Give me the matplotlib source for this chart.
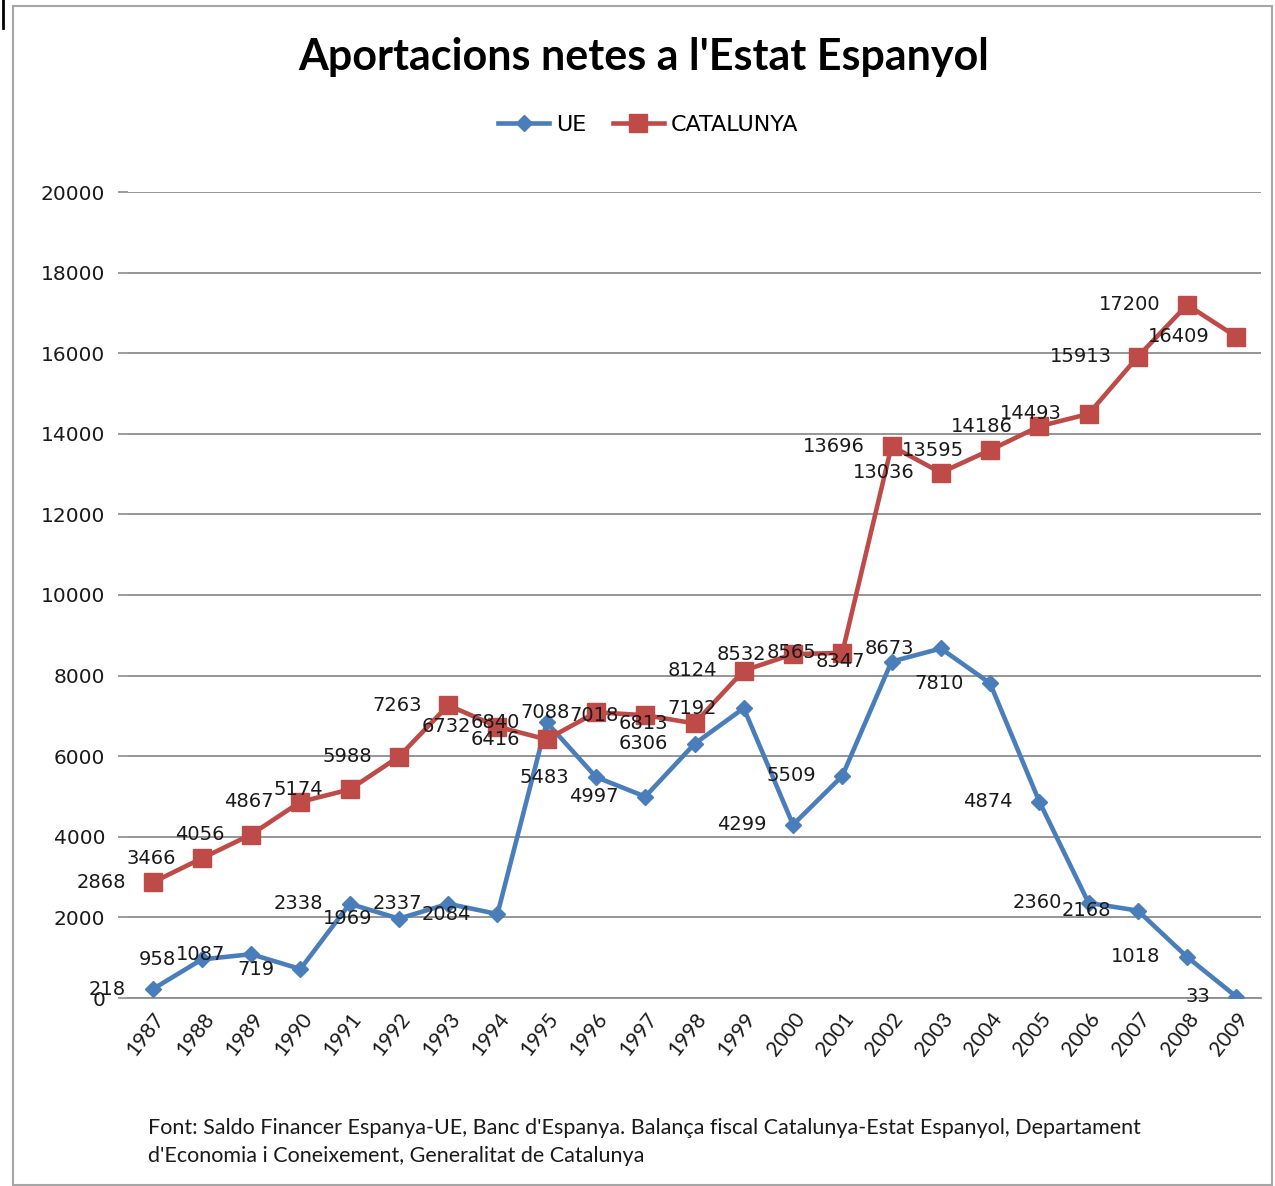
import matplotlib
matplotlib.use("Agg")
import matplotlib.pyplot as plt
from matplotlib.lines import Line2D
from matplotlib.patches import Rectangle

years = [str(y) for y in range(1987, 2010)]
ue = [218, 958, 1087, 719, 2338, 1969, 2337, 2084, 6840, 5483, 4997, 6306,
      7192, 4299, 5509, 8347, 8673, 7810, 4874, 2360, 2168, 1018, 33]
catalunya = [2868, 3466, 4056, 4867, 5174, 5988, 7263, 6732, 6416, 7088, 7018,
             6813, 8124, 8532, 8565, 13696, 13036, 13595, 14186, 14493, 15913,
             17200, 16409]
yticks = list(range(0, 20001, 2000))

title = "Aportacions netes a l'Estat Espanyol"
source = ("Font: Saldo Financer Espanya-UE, Banc d'Espanya. Balança fiscal Catalunya-Estat Espanyol, Departament\n"
          "d'Economia i Coneixement, Generalitat de Catalunya")

BLUE = "#4A7EBB"
RED = "#BE4B48"
GRID = "#8C8C8C"

W, H = 1275, 1186
fig = plt.figure(figsize=(W / 100, H / 100), dpi=100)
fig.patch.set_facecolor("white")

# outer border
fig.patches.append(Rectangle((13 / W, 0.001), (1272 - 13) / W, 1 - 6 / H - 0.001,
                             transform=fig.transFigure, fill=False,
                             edgecolor="#A6A6A6", linewidth=1.5))

ax = fig.add_axes([128 / W, 1 - 998 / H, (1261 - 128) / W, (998 - 192) / H])
x = list(range(len(years)))

ax.plot(x, ue, color=BLUE, lw=3.3, marker="D", ms=8.5, mfc=BLUE, mec=BLUE,
        zorder=3, solid_joinstyle="round")
ax.plot(x, catalunya, color=RED, lw=3.3, marker="s", ms=13, mfc=RED, mec=RED,
        zorder=3, solid_joinstyle="round")

for xi, v in zip(x, ue):
    ax.annotate(str(v), (xi, v), xytext=(-19, 0), textcoords="offset points",
                ha="right", va="center", fontsize=14, color="#1a1a1a",
                family="DejaVu Sans", zorder=5)
for xi, v in zip(x, catalunya):
    ax.annotate(str(v), (xi, v), xytext=(-19, 0), textcoords="offset points",
                ha="right", va="center", fontsize=14, color="#1a1a1a",
                family="DejaVu Sans", zorder=5)

ax.set_xlim(-0.5, len(years) - 0.5)
ax.set_ylim(0, 20000)
ax.set_yticks(yticks)
ax.set_yticklabels([str(t) for t in yticks], fontsize=14.5, color="#1a1a1a",
                   family="DejaVu Sans")
ax.set_xticks(x)
ax.set_xticklabels(years, rotation=52, ha="right", rotation_mode="anchor",
                   fontsize=15, family="Lato", color="#1a1a1a")
ax.tick_params(axis="x", length=0, pad=8)
ax.tick_params(axis="y", length=7, width=1.2, color=GRID, pad=9.5)
ax.grid(axis="y", color=GRID, lw=1.3)
ax.set_axisbelow(True)
for s in ["left", "right", "top"]:
    ax.spines[s].set_visible(False)
ax.spines["bottom"].set_color(GRID)
ax.spines["bottom"].set_linewidth(1.3)

fig.text(644 / W, 1 - 57 / H, title, ha="center", va="center", fontsize=31,
         fontweight="bold", family="Lato", color="black")

handles = [Line2D([], [], color=BLUE, lw=3.3, marker="D", ms=8.5),
           Line2D([], [], color=RED, lw=3.3, marker="s", ms=13)]
fig.legend(handles, ["UE", "CATALUNYA"], loc="center", ncol=2,
           bbox_to_anchor=(648 / W, 1 - 125 / H), frameon=False,
           prop={"family": "DejaVu Sans", "size": 16}, handlelength=2.3,
           handletextpad=0.3, columnspacing=1.2)

fig.text(148 / W, 1 - 1142 / H, source, ha="left", va="center", fontsize=15.5,
         family="Lato", color="#1a1a1a", linespacing=1.45)

fig.add_artist(Line2D([3 / W, 3 / W], [1, 1 - 28 / H], transform=fig.transFigure,
                      color="black", lw=2))

fig.savefig("out.png", dpi=100)
